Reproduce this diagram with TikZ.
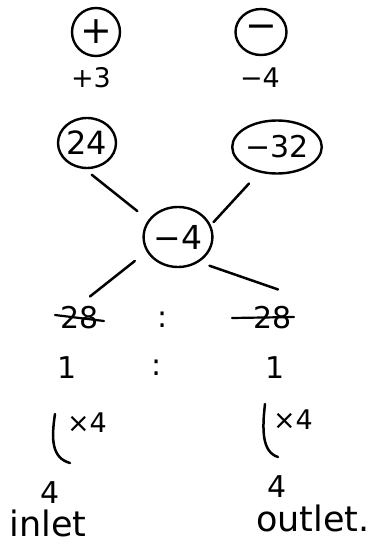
\documentclass[tikz,border=0pt]{standalone}
\usepackage{fontspec}
\setmainfont{DejaVu Sans}
\usetikzlibrary{shapes.geometric}
\begin{document}
\begin{tikzpicture}[x=1pt,y=-1pt,
  ring/.style={draw, ellipse, line width=2.4pt, inner sep=0pt},
  lbl/.style={inner sep=0pt, font=\fontsize{27}{30}\selectfont},
  big/.style={inner sep=0pt, font=\fontsize{30}{34}\selectfont},
  word/.style={inner sep=0pt, font=\fontsize{35}{38}\selectfont},
  conn/.style={line width=2.5pt, line cap=round},
  strike/.style={line width=2.2pt, line cap=round}]
\useasboundingbox (0,0) rectangle (374,546);
% top signs
\node[ring, minimum width=48pt, minimum height=48pt, font=\fontsize{38}{40}\selectfont] (plus) at (96,32) {+};
\node[ring, minimum width=51pt, minimum height=46pt, font=\fontsize{38}{40}\selectfont] (minus) at (261,32) {−};
\node[lbl] (p3) at (91,78) {+3};
\node[lbl] (m4) at (260,78) {−4};
% middle
\node[ring, minimum width=58pt, minimum height=50pt, font=\fontsize{32}{34}\selectfont] (n24) at (87,143) {24};
\node[ring, minimum width=72pt, minimum height=53pt, font=\fontsize{30}{34}\selectfont] (n32) at (277,147) {−32};
\node[ring, minimum width=65pt, minimum height=60pt, font=\fontsize{33}{34}\selectfont] (ctr) at (178,237) {−4};
% ratio 28 : 28
\node[big] (l28) at (80,318) {28};
\node[big] (c1) at (163,320) {:};
\node[big] (r28) at (273,318) {28};
\draw[strike] ([shift={(-25,-3)}]l28.center) -- ([shift={(24,3)}]l28.center);
\draw[strike] ([shift={(-41,0)}]r28.center) -- ([shift={(21,-1)}]r28.center);
% connectors
\draw[conn, shorten <=9pt, shorten >=14pt] (n24.-95) -- (ctr.150);
\draw[conn, shorten <=15pt, shorten >=4pt] (n32.-125) -- (ctr.20);
\draw[conn, shorten <=15pt] (ctr.205) -- ([shift={(10,-10)}]l28.north);
\draw[conn, shorten <=11pt] (ctr.-50) -- ([shift={(5,-17)}]r28.north);
% ratio 1 : 1
\node[big] (l1) at (67,368) {1};
\node[big] (c2) at (157,368) {:};
\node[big] (r1) at (275,368) {1};
% x4 brackets
\draw[conn] (55,414) .. controls (51,440) and (52,458) .. (70,463);
\draw[conn] (265,404) .. controls (262,430) and (262,452) .. (278,457);
\node[lbl] (lx) at (87,423) {×4};
\node[lbl] (rx) at (293,420) {×4};
% results
\node[big] (l4) at (50,493) {4};
\node[big] (r4) at (277,487) {4};
\node[word] (inlet) at (48,523) {inlet};
\node[word] (outlet) at (313,518) {outlet.};
\end{tikzpicture}
\end{document}
